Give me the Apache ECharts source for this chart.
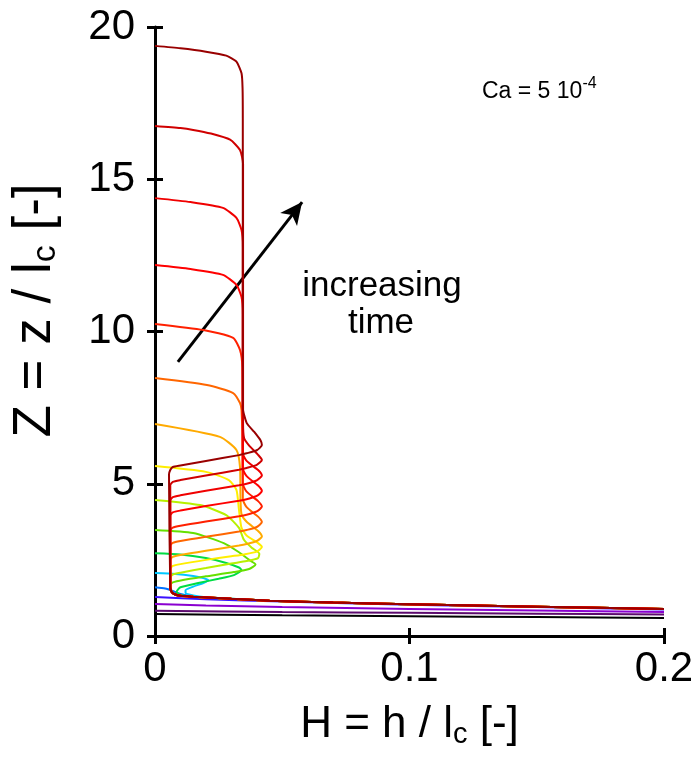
<!DOCTYPE html>
<html><head><meta charset="utf-8">
<script src="https://cdn.jsdelivr.net/npm/echarts/dist/echarts.min.js"></script>
<style>html,body{margin:0;padding:0;background:#fff}#c{width:694px;height:766px}</style>
</head><body><div id="c"></div>
<script>
// ---- data (H, Z) ----
const X_TICKS = ['0', '0.1', '0.2'];
const Y_TICKS = ['0', '5', '10', '15', '20'];

// shared far meniscus part
const MEN_FAR = [[0.03,1.22],[0.045,1.16],[0.07,1.1],[0.1,1.04],[0.15,0.96],[0.2,0.89]];
// foot of the thin film joining the meniscus
const FILM_FOOT = [[0.006,1.6],[0.0065,1.45],[0.0075,1.38],[0.01,1.32],[0.015,1.29]];

const c01 = [[0,0.72],[0.05,0.68],[0.1,0.65],[0.15,0.62],[0.2,0.59]];
const c02 = [[0,0.83],[0.05,0.79],[0.1,0.76],[0.15,0.73],[0.2,0.71]];
const c03 = [[0,1.05],[0.02,1.0],[0.05,0.95],[0.1,0.89],[0.15,0.84],[0.2,0.79]];
const c04 = [[0,1.28],[0.02,1.21],[0.05,1.13],[0.1,1.03],[0.15,0.95],[0.2,0.87]];
const c05 = [[0,1.6],[0.004,1.56],[0.007,1.48],[0.01,1.38],[0.015,1.3],[0.02,1.26]];
const c06 = [[0,2.07],[0.008,2.04],[0.015,1.97],[0.019,1.9],[0.021,1.83],[0.019,1.74],[0.015,1.62],[0.012,1.5],[0.012,1.42],[0.015,1.33],[0.02,1.27]];
const c07 = [[0,2.72],[0.01,2.68],[0.02,2.56],[0.028,2.4],[0.033,2.25],[0.034,2.17],[0.031,2.0],[0.025,1.88],[0.017,1.74],[0.01,1.6],[0.0085,1.45],[0.01,1.35],[0.015,1.29]];
const c08 = [[0,3.48],[0.015,3.38],[0.027,3.05],[0.033,2.75],[0.037,2.5],[0.0395,2.35],[0.037,2.2],[0.031,2.1],[0.02,1.96],[0.011,1.84],[0.007,1.76],[0.006,1.68]];
const c09 = [[0,4.47],[0.0177,4.3],[0.028,3.97],[0.033,3.55],[0.035,3.15],[0.038,2.9],[0.041,2.7],[0.0405,2.56],[0.036,2.46],[0.03,2.38],[0.02,2.23],[0.01,2.08],[0.007,2.02],[0.006,1.92]];
const c10 = [[0,5.58],[0.02,5.39],[0.029,5.12],[0.032,4.8],[0.033,4.14],[0.034,3.55],[0.036,3.3],[0.0405,3.05],[0.042,2.92],[0.04,2.77],[0.035,2.68],[0.03,2.62],[0.02,2.5],[0.01,2.36],[0.007,2.3],[0.006,2.2]];
const c11 = [[0,6.96],[0.0255,6.54],[0.032,6.11],[0.0334,5.55],[0.0336,4.5],[0.034,4.0],[0.036,3.75],[0.0405,3.45],[0.042,3.27],[0.04,3.12],[0.036,3.02],[0.033,2.97],[0.02,2.8],[0.01,2.66],[0.007,2.6],[0.006,2.5]];
const c12 = [[0,8.47],[0.0204,8.24],[0.0307,7.98],[0.0334,7.65],[0.034,7.42],[0.0345,6.0],[0.0345,4.5],[0.036,4.23],[0.0405,3.92],[0.042,3.74],[0.04,3.58],[0.036,3.48],[0.033,3.43],[0.02,3.26],[0.01,3.12],[0.007,3.06],[0.006,2.96]];
const c13 = [[0,10.25],[0.019,10.05],[0.0307,9.79],[0.0334,9.39],[0.0343,8.83],[0.0345,5.0],[0.036,4.74],[0.0405,4.43],[0.042,4.25],[0.04,4.09],[0.036,3.98],[0.033,3.93],[0.02,3.76],[0.01,3.62],[0.007,3.56],[0.006,3.46]];
const c14 = [[0,12.18],[0.014,12.05],[0.0267,11.86],[0.032,11.53],[0.034,11.13],[0.0345,10.57],[0.0345,5.5],[0.036,5.25],[0.0405,4.94],[0.042,4.76],[0.04,4.6],[0.036,4.49],[0.033,4.44],[0.02,4.27],[0.01,4.12],[0.007,4.06],[0.006,3.96]];
const c15 = [[0,14.38],[0.014,14.25],[0.0267,14.06],[0.032,13.73],[0.034,13.33],[0.0345,12.77],[0.0345,6.0],[0.036,5.75],[0.0405,5.45],[0.042,5.27],[0.04,5.11],[0.036,5.0],[0.033,4.95],[0.02,4.77],[0.01,4.62],[0.007,4.56],[0.006,4.45]];
const c16 = [[0,16.75],[0.01,16.68],[0.015,16.62],[0.022,16.5],[0.0295,16.3],[0.0334,15.96],[0.0346,15.5],[0.0346,7.0],[0.035,6.5],[0.037,6.25],[0.0405,5.95],[0.042,5.78],[0.04,5.62],[0.036,5.52],[0.033,5.46],[0.02,5.27],[0.01,5.12],[0.007,5.06],[0.006,4.95]];
const c17 = [[0,19.38],[0.01,19.3],[0.02,19.19],[0.028,19.06],[0.032,18.86],[0.034,18.48],[0.0344,18.0],[0.0345,17.0],[0.0345,7.5],[0.036,7.0],[0.039,6.7],[0.0415,6.42],[0.042,6.27],[0.04,6.1],[0.036,6.0],[0.033,5.94],[0.02,5.75],[0.01,5.6],[0.007,5.55],[0.006,5.45],[0.0055,5.3]];

const CURVES = [
  {d: c01, col: '#000000', tail: []},
  {d: c02, col: '#5c0a6e', tail: []},
  {d: c03, col: '#8a00d0', tail: []},
  {d: c04, col: '#3a10ff', tail: []},
  {d: c05, col: '#0070ff', tail: MEN_FAR},
  {d: c06, col: '#00c8ff', tail: MEN_FAR},
  {d: c07, col: '#00dd44', tail: MEN_FAR},
  {d: c08, col: '#66e000', tail: FILM_FOOT.concat(MEN_FAR)},
  {d: c09, col: '#b8f000', tail: FILM_FOOT.concat(MEN_FAR)},
  {d: c10, col: '#ffee00', tail: FILM_FOOT.concat(MEN_FAR)},
  {d: c11, col: '#ffaa00', tail: FILM_FOOT.concat(MEN_FAR)},
  {d: c12, col: '#ff6600', tail: FILM_FOOT.concat(MEN_FAR)},
  {d: c13, col: '#ff2000', tail: FILM_FOOT.concat(MEN_FAR)},
  {d: c14, col: '#ff0000', tail: FILM_FOOT.concat(MEN_FAR)},
  {d: c15, col: '#f00000', tail: FILM_FOOT.concat(MEN_FAR)},
  {d: c16, col: '#d00000', tail: FILM_FOOT.concat(MEN_FAR)},
  {d: c17, col: '#990000', tail: FILM_FOOT.concat(MEN_FAR)}
];

const ARROW = [[0.009, 9.0], [0.0578, 14.25]];

const FONT = "'Liberation Sans', Arial, sans-serif";
const chart = echarts.init(document.getElementById('c'), null, {renderer: 'canvas'});

const series = CURVES.map((c, i) => ({
  type: 'line', data: c.d.concat(c.tail), showSymbol: false, symbol: 'none',
  smooth: 0.2, lineStyle: {color: c.col, width: 2}, z: 2 + i, silent: true, animation: false
}));
series.push({
  type: 'line', data: [ARROW[0]], showSymbol: false, symbol: 'none', lineStyle: {width: 0},
  animation: false, z: 30,
  markLine: {
    silent: true, animation: false, symbol: ['none', 'arrow'], symbolSize: [16, 22],
    lineStyle: {color: '#000', width: 3, type: 'solid'}, label: {show: false},
    data: [[{coord: ARROW[0]}, {coord: ARROW[1]}]]
  }
});

const axStyle = {color: '#000', width: 3};
chart.setOption({
  animation: false,
  grid: {left: 155, right: 30, top: 27, bottom: 130, containLabel: false, outerBoundsMode: 'none'},
  xAxis: [{
    type: 'value', min: 0, max: 0.2, interval: 0.1, position: 'bottom',
    axisLine: {lineStyle: axStyle}, axisTick: {inside: false, length: 8, lineStyle: axStyle},
    splitLine: {show: false},
    axisLabel: {fontSize: 42, color: '#000', fontFamily: FONT, margin: 12,
      formatter: v => X_TICKS[Math.round(v / 0.1)]},
    name: '{a|H = h / l}{b|c}{a| [-]}', nameLocation: 'middle', nameGap: 64,
    nameTextStyle: {rich: {
      a: {fontSize: 44, color: '#000', fontFamily: FONT},
      b: {fontSize: 29, color: '#000', fontFamily: FONT, padding: [20, 0, 0, 0]}
    }}
  }, {
    type: 'value', min: 0, max: 0.2, interval: 0.1, position: 'bottom',
    axisLine: {show: false}, axisTick: {inside: true, length: 8, lineStyle: axStyle},
    axisLabel: {show: false}, splitLine: {show: false}
  }],
  yAxis: [{
    type: 'value', min: 0, max: 20, interval: 5, position: 'left',
    axisLine: {lineStyle: axStyle}, axisTick: {inside: false, length: 8, lineStyle: axStyle},
    splitLine: {show: false},
    axisLabel: {fontSize: 42, color: '#000', fontFamily: FONT, margin: 20,
      formatter: v => Y_TICKS[Math.round(v / 5)]},
    name: '{a|Z = z / l}{b|c}{a| [-]}', nameLocation: 'middle', nameGap: 92, nameRotate: 90,
    nameTextStyle: {padding: [0, 0, 0, 42], rich: {
      a: {fontSize: 53, color: '#000', fontFamily: FONT},
      b: {fontSize: 34, color: '#000', fontFamily: FONT, padding: [22, 0, 0, 0]}
    }}
  }, {
    type: 'value', min: 0, max: 20, interval: 5, position: 'left',
    axisLine: {show: false}, axisTick: {inside: true, length: 8, lineStyle: axStyle},
    axisLabel: {show: false}, splitLine: {show: false}
  }],
  graphic: [
    {type: 'text', x: 382, y: 286, z: 50, style: {text: 'increasing', font: '35px ' + FONT, fill: '#000', align: 'center', verticalAlign: 'middle'}},
    {type: 'text', x: 381, y: 323, z: 50, style: {text: 'time', font: '35px ' + FONT, fill: '#000', align: 'center', verticalAlign: 'middle'}},
    {type: 'text', left: 482, top: 76, z: 50, style: {
      text: '{a|Ca = 5 10}{b|-4}', rich: {
        a: {fontSize: 23, fill: '#000', fontFamily: FONT},
        b: {fontSize: 16, fill: '#000', fontFamily: FONT, padding: [0, 0, 16, 0]}
      }}}
  ],
  series: series
});
</script></body></html>
